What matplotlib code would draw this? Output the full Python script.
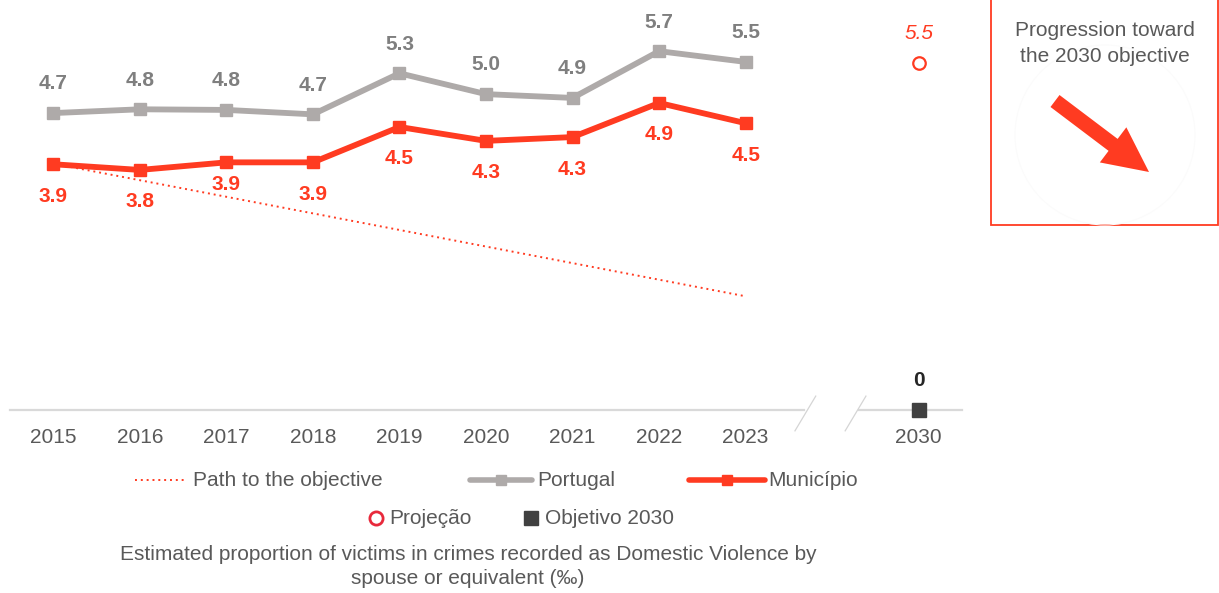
import matplotlib
matplotlib.use("Agg")
import matplotlib.pyplot as plt
from matplotlib.lines import Line2D
from matplotlib.patches import Rectangle, FancyArrow, Circle

plt.rcParams['font.family'] = ['Liberation Sans', 'DejaVu Sans']

# ---------------- data ----------------
years = ["2015", "2016", "2017", "2018", "2019", "2020", "2021", "2022", "2023"]
target_year = "2030"
portugal = [4.70, 4.76, 4.75, 4.68, 5.33, 5.00, 4.94, 5.68, 5.51]
municipio = [3.89, 3.80, 3.92, 3.92, 4.48, 4.26, 4.32, 4.86, 4.54]
path_years = ["2015", "2023"]
path_values = [3.9, 1.8]
projection_2030 = 5.5
objective_2030 = 0

# ---------------- style ----------------
RED = "#FF3B21"
GRAY_LINE = "#AEAAA9"
GRAY_LABEL = "#7F7F7F"
TEXT = "#595959"
DARK = "#404040"
FS = 15

W, H = 1219, 593
fig = plt.figure(figsize=(W / 100, H / 100), dpi=100)

# main axes: pixel x 10..962, y 0..410 (y=410 is value 0)
ax = fig.add_axes([10 / W, 1 - 410 / H, 952 / W, 410 / H])
pos = {y: i for i, y in enumerate(years)}
pos[target_year] = len(years) + 1
xs = [pos[y] for y in years]

ax.set_xlim(-0.5, 10.5)
ax.set_ylim(0, 6.49)
for s in ax.spines.values():
    s.set_visible(False)
ax.set_yticks([])
ax.set_xticks(xs + [pos[target_year]])
ax.set_xticklabels(years + [target_year], fontsize=FS, color=TEXT)
ax.tick_params(axis='x', length=0, pad=13)

# broken baseline
brk1, brk2 = 8.67, 9.31
ax.plot([-0.5, brk1], [0, 0], color="#D9D9D9", lw=1.6, clip_on=False, zorder=1)
ax.plot([brk2, 10.5], [0, 0], color="#D9D9D9", lw=1.6, clip_on=False, zorder=1)
for bx in (8.57, 9.15):
    ax.plot([bx, bx + 0.24], [-0.33, 0.22], color="#D5D5D5", lw=0.9, clip_on=False, zorder=1)

# path to objective
ax.plot([pos[y] for y in path_years], path_values, color=RED, lw=1.4,
        linestyle=(0, (1, 2)), zorder=2)

# series
ax.plot(xs, portugal, color=GRAY_LINE, lw=4.2, marker='s', ms=9, zorder=3)
ax.plot(xs, municipio, color=RED, lw=4.2, marker='s', ms=9, zorder=4)

for x, v in zip(xs, portugal):
    ax.annotate(f"{v:.1f}", (x, v), xytext=(0, 21), textcoords='offset points',
                ha='center', va='center', fontsize=FS, fontweight='bold', color=GRAY_LABEL)
mun_offsets = [-23, -23, -16, -23, -23, -23, -23, -23, -23]
for x, v, off in zip(xs, municipio, mun_offsets):
    ax.annotate(f"{v:.1f}", (x, v), xytext=(0, off), textcoords='offset points',
                ha='center', va='center', fontsize=FS, fontweight='bold', color=RED)

# 2030 projection & objective
xt = pos[target_year]
ax.plot([xt], [projection_2030], marker='o', ms=9, mfc='white', mec=RED, mew=1.6,
        linestyle='none', clip_on=False, zorder=5)
ax.annotate(f"{projection_2030:.1f}", (xt, projection_2030), xytext=(0, 21),
            textcoords='offset points', ha='center', va='center', fontsize=FS,
            fontstyle='italic', color=RED)
ax.plot([xt], [objective_2030], marker='s', ms=9.5, color=DARK, linestyle='none',
        clip_on=False, zorder=5)
ax.annotate(f"{objective_2030}", (xt, objective_2030), xytext=(0, 21),
            textcoords='offset points', ha='center', va='center', fontsize=FS,
            fontweight='bold', color="#262626")

# overlay in pixel coordinates
ov = fig.add_axes([0, 0, 1, 1], zorder=10)
ov.set_xlim(0, W)
ov.set_ylim(H, 0)
ov.axis('off')
ov.patch.set_alpha(0)

# progression box
ov.add_patch(Rectangle((991, -3), 227, 228, fill=False, edgecolor=RED, lw=1.3))
ov.add_patch(Circle((1105, 135), 90, fill=False, edgecolor="#FBFBFB", lw=0.8))
ov.text(1105, 31, "Progression toward", ha='center', va='center', fontsize=FS, color=TEXT)
ov.text(1105, 57, "the 2030 objective", ha='center', va='center', fontsize=FS, color=TEXT)
ov.add_patch(FancyArrow(1055, 101, 94, 71, width=15, head_width=44, head_length=45,
                        length_includes_head=True, color=RED, lw=0))

# legend row 1
ly1, ly2 = 480, 518
ov.add_line(Line2D([135, 187], [ly1, ly1], color=RED, lw=1.4, linestyle=(0, (1, 2))))
ov.text(193, ly1, "Path to the objective", ha='left', va='center', fontsize=FS, color=TEXT)
ov.add_line(Line2D([470, 532], [ly1, ly1], color=GRAY_LINE, lw=4, solid_capstyle='round'))
ov.add_line(Line2D([501], [ly1], marker='s', ms=7, color=GRAY_LINE))
ov.text(537, ly1, "Portugal", ha='left', va='center', fontsize=FS, color=TEXT)
ov.add_line(Line2D([689, 765], [ly1, ly1], color=RED, lw=4, solid_capstyle='round'))
ov.add_line(Line2D([727], [ly1], marker='s', ms=7, color=RED))
ov.text(768, ly1, "Município", ha='left', va='center', fontsize=FS, color=TEXT)
# legend row 2
ov.add_line(Line2D([376], [ly2], marker='o', ms=9.5, mfc='white', mec="#E8293B", mew=2))
ov.text(389, ly2, "Projeção", ha='left', va='center', fontsize=FS, color=TEXT)
ov.add_line(Line2D([531], [ly2], marker='s', ms=9.5, color=DARK))
ov.text(545, ly2, "Objetivo 2030", ha='left', va='center', fontsize=FS, color=TEXT)

# caption
ov.text(468, 554, "Estimated proportion of victims in crimes recorded as Domestic Violence by",
        ha='center', va='center', fontsize=FS, color=TEXT)
ov.text(468, 578, "spouse or equivalent (‰)", ha='center', va='center', fontsize=FS, color=TEXT)

fig.savefig("out.png", dpi=100, facecolor='white')
